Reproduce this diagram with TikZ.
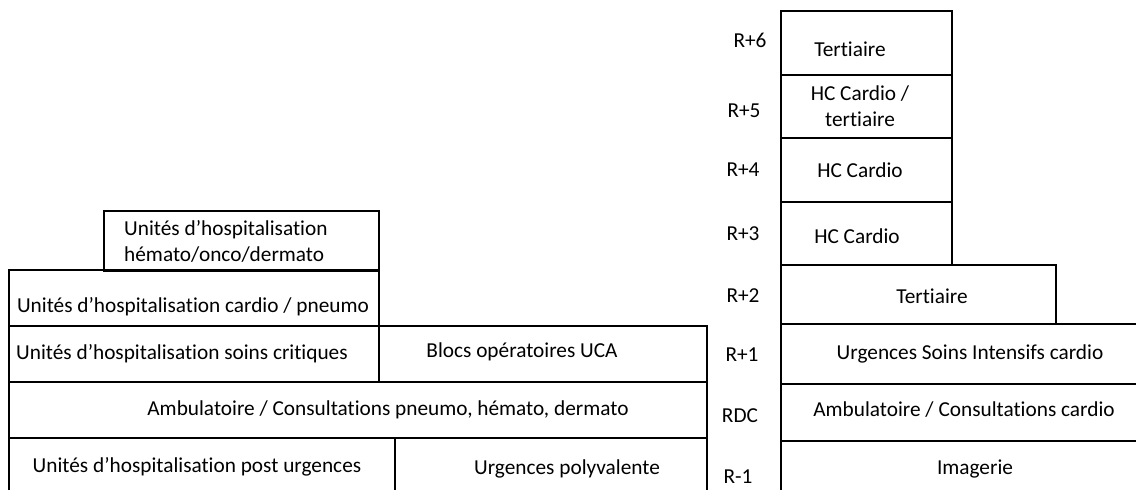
\documentclass[tikz,border=0pt]{standalone}
\usepackage{fontspec}
\setmainfont{Carlito}[Ligatures=NoCommon]
\usepackage{tikz}
\usetikzlibrary{calc}

\begin{document}
\begin{tikzpicture}[x=1pt,y=-1pt,
    floor/.style={draw=black,line width=1.7pt},
    lbl/.style={inner sep=0pt,font=\fontsize{21.3}{26}\selectfont,align=center},
    lvl/.style={inner sep=0pt,font=\fontsize{21.3}{26}\selectfont}]
    \useasboundingbox (0,0) rectangle (1136,490);
    \clip (0,0) rectangle (1136,490);
    % batiment gauche
    \draw[floor] (104,211) rectangle (379,271);
    \draw[floor] (9,270) rectangle (379,326);
    \draw[floor] (9,326) rectangle (379,382);
    \draw[floor] (379,326) rectangle (707,382);
    \draw[floor] (9,382) rectangle (707,438);
    \draw[floor] (9,438) rectangle (395,500);
    \draw[floor] (395,438) rectangle (707,500);
    \node[lbl,anchor=west,align=left] (hemato) at (124,241) {Unités d’hospitalisation\\hémato/onco/dermato};
    \node[lbl] (cardiopneumo) at (193,307) {Unités d’hospitalisation cardio / pneumo};
    \node[lbl] (soins) at (182,354) {Unités d’hospitalisation soins critiques};
    \node[lbl] (blocs) at (522,352) {Blocs opératoires UCA};
    \node[lbl] (ambuG) at (388,410) {Ambulatoire / Consultations pneumo, hémato, dermato};
    \node[lbl] (posturg) at (197,467) {Unités d’hospitalisation post urgences};
    \node[lbl] (urgpoly) at (567,469) {Urgences polyvalente};
    % batiment droit
    \draw[floor] (781,11) rectangle (952,75);
    \draw[floor] (781,75) rectangle (952,138);
    \draw[floor] (781,138) rectangle (952,202);
    \draw[floor] (781,202) rectangle (952,265);
    \draw[floor] (781,265) rectangle (1056,324);
    \draw[floor] (781,324) rectangle (1150,384);
    \draw[floor] (781,384) rectangle (1150,441);
    \draw[floor] (781,441) rectangle (1150,500);
    \node[lbl] (tert6) at (850,49) {Tertiaire};
    \node[lbl] (hc5) at (860,106) {HC Cardio /\\tertiaire};
    \node[lbl] (hc4) at (860,170) {HC Cardio};
    \node[lbl] (hc3) at (857,236) {HC Cardio};
    \node[lbl] (tert2) at (932,296) {Tertiaire};
    \node[lbl] (usic) at (970,354) {Urgences Soins Intensifs cardio};
    \node[lbl] (ambuD) at (964,410) {Ambulatoire / Consultations cardio};
    \node[lbl] (imag) at (975,469) {Imagerie};
    % niveaux
    \node[lvl] (r6) at (750,40) {R+6};
    \node[lvl] (r5) at (744,111) {R+5};
    \node[lvl] (r4) at (743,170) {R+4};
    \node[lvl] (r3) at (743,234) {R+3};
    \node[lvl] (r2) at (743,296) {R+2};
    \node[lvl] (r1) at (742,355) {R+1};
    \node[lvl] (rdc) at (740,416) {RDC};
    \node[lvl] (rm1) at (738,477) {R-1};
\end{tikzpicture}
\end{document}
